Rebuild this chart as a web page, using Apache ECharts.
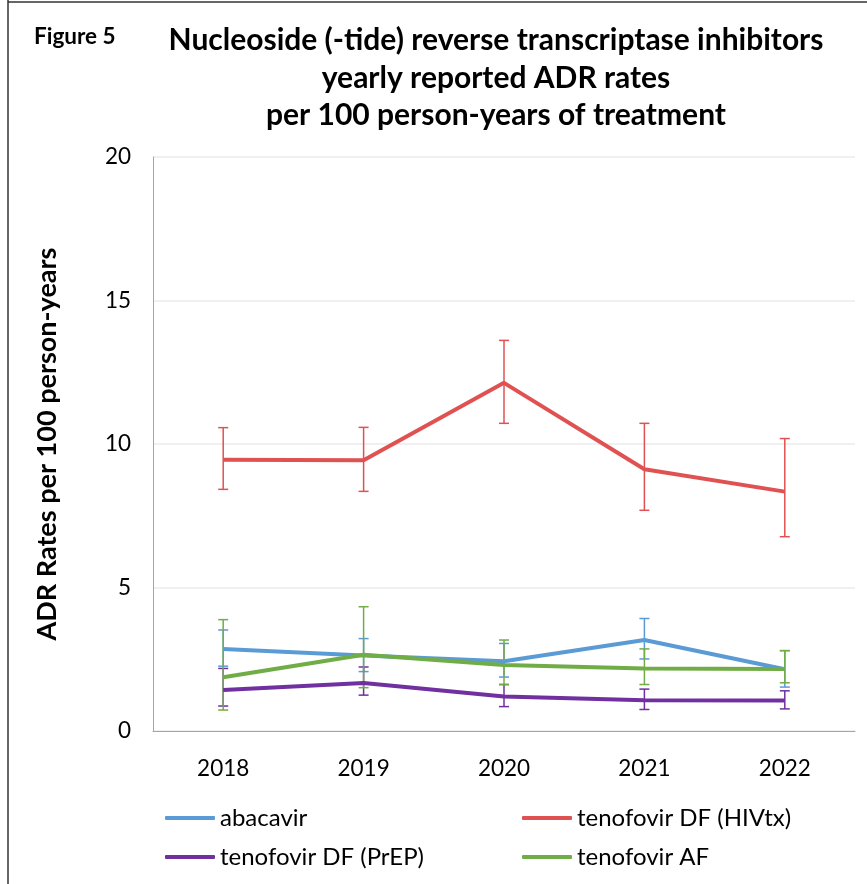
<!DOCTYPE html>
<html>
<head>
<meta charset="utf-8">
<script src="https://cdn.jsdelivr.net/npm/echarts@6/dist/echarts.min.js"></script>
<style>
  html, body { margin: 0; padding: 0; background: #fff; }
  #chart { width: 867px; height: 884px; }
</style>
</head>
<body>
<div id="chart"></div>
<script>
// data
var years = ["2018", "2019", "2020", "2021", "2022"];
var yTicks = [0, 5, 10, 15, 20];

var abacavir = [2.86, 2.63, 2.43, 3.17, 2.15];
var abacavirLow = [2.26, 2.07, 1.88, 2.51, 1.53];
var abacavirHigh = [3.52, 3.22, 3.05, 3.92, 2.80];

var tdfHiv = [9.45, 9.43, 12.13, 9.12, 8.34];
var tdfHivLow = [8.42, 8.35, 10.72, 7.69, 6.77];
var tdfHivHigh = [10.57, 10.58, 13.61, 10.72, 10.19];

var tdfPrep = [1.43, 1.67, 1.20, 1.07, 1.06];
var tdfPrepLow = [0.87, 1.25, 0.85, 0.75, 0.77];
var tdfPrepHigh = [2.18, 2.23, 1.62, 1.46, 1.40];

var taf = [1.87, 2.66, 2.30, 2.18, 2.16];
var tafLow = [0.73, 1.51, 1.62, 1.62, 1.68];
var tafHigh = [3.88, 4.33, 3.17, 2.86, 2.80];

var names = ["abacavir", "tenofovir DF (HIVtx)", "tenofovir DF (PrEP)", "tenofovir AF"];
var colors = ["#5B9BD5", "#E05252", "#7030A0", "#70AD47"];
var font = "Lato";

var chart = echarts.init(document.getElementById("chart"));

function errData(low, high) {
  return low.map(function (v, i) { return [i, v, high[i]]; });
}

function errorSeries(name, low, high, color) {
  return {
    name: name,
    type: "custom",
    data: errData(low, high),
    renderItem: function (params, api) {
      var top = api.coord([api.value(0), api.value(2)]);
      var bot = api.coord([api.value(0), api.value(1)]);
      var w = 5;
      var st = { stroke: color, lineWidth: 1.5 };
      return {
        type: "group",
        children: [
          { type: "line", shape: { x1: top[0], y1: top[1], x2: bot[0], y2: bot[1] }, style: st },
          { type: "line", shape: { x1: top[0] - w, y1: top[1], x2: top[0] + w, y2: top[1] }, style: st },
          { type: "line", shape: { x1: bot[0] - w, y1: bot[1], x2: bot[0] + w, y2: bot[1] }, style: st }
        ]
      };
    },
    silent: true,
    z: 2
  };
}

function lineSeries(name, data, color, z) {
  return {
    name: name,
    type: "line",
    data: data,
    symbol: "none",
    lineStyle: { color: color, width: 4 },
    itemStyle: { color: color },
    z: z
  };
}

var option = {
  animation: false,
  color: colors,
  textStyle: { fontFamily: font },
  graphic: [
    { type: "line", shape: { x1: 8, y1: 0, x2: 8, y2: 884 }, style: { stroke: "#333", lineWidth: 1.5 } },
    { type: "line", shape: { x1: 8, y1: 2, x2: 867, y2: 2 }, style: { stroke: "#333", lineWidth: 1.5 } },
    {
      type: "text", left: 34, top: 25,
      style: { text: "Figure 5", font: "bold 22.5px " + font, fill: "#000" }
    },
    {
      type: "text", x: 496, y: 22,
      style: {
        text: "Nucleoside (-tide) reverse transcriptase inhibitors\nyearly reported ADR rates\nper 100 person-years of treatment",
        font: "bold 30px " + font, fill: "#000", align: "center", lineHeight: 37.5
      }
    }
  ],
  grid: { left: 153, right: 12, top: 157, bottom: 153 },
  legend: [
    {
      data: [names[0], names[2]],
      orient: "vertical", left: 160, top: 801, itemGap: 15,
      icon: "roundRect", itemWidth: 50, itemHeight: 4,
      textStyle: { fontSize: 24, fontFamily: font, color: "#000" }
    },
    {
      data: [names[1], names[3]],
      orient: "vertical", left: 517, top: 801, itemGap: 15,
      icon: "roundRect", itemWidth: 50, itemHeight: 4,
      textStyle: { fontSize: 24, fontFamily: font, color: "#000" }
    }
  ],
  xAxis: {
    type: "category",
    data: years,
    boundaryGap: true,
    axisLine: { lineStyle: { color: "#A6A6A6", width: 1 } },
    axisTick: { show: false },
    axisLabel: { fontSize: 22.5, color: "#000", margin: 26, fontFamily: font }
  },
  yAxis: {
    type: "value",
    min: yTicks[0],
    max: yTicks[yTicks.length - 1],
    interval: 5,
    name: "ADR Rates per 100 person-years",
    nameLocation: "middle",
    nameGap: 92,
    nameRotate: 90,
    nameTextStyle: { fontSize: 27, fontWeight: "bold", color: "#000", fontFamily: font },
    axisLine: { show: true, lineStyle: { color: "#A6A6A6", width: 1 } },
    axisTick: { show: false },
    axisLabel: { fontSize: 22.5, color: "#000", margin: 22, fontFamily: font },
    splitLine: { lineStyle: { color: "#EBEBEB", width: 1.5 } }
  },
  series: [
    errorSeries(names[0], abacavirLow, abacavirHigh, colors[0]),
    lineSeries(names[0], abacavir, colors[0], 3),
    errorSeries(names[1], tdfHivLow, tdfHivHigh, colors[1]),
    lineSeries(names[1], tdfHiv, colors[1], 3),
    errorSeries(names[2], tdfPrepLow, tdfPrepHigh, colors[2]),
    lineSeries(names[2], tdfPrep, colors[2], 4),
    errorSeries(names[3], tafLow, tafHigh, colors[3]),
    lineSeries(names[3], taf, colors[3], 5)
  ]
};

chart.setOption(option);
</script>
</body>
</html>
